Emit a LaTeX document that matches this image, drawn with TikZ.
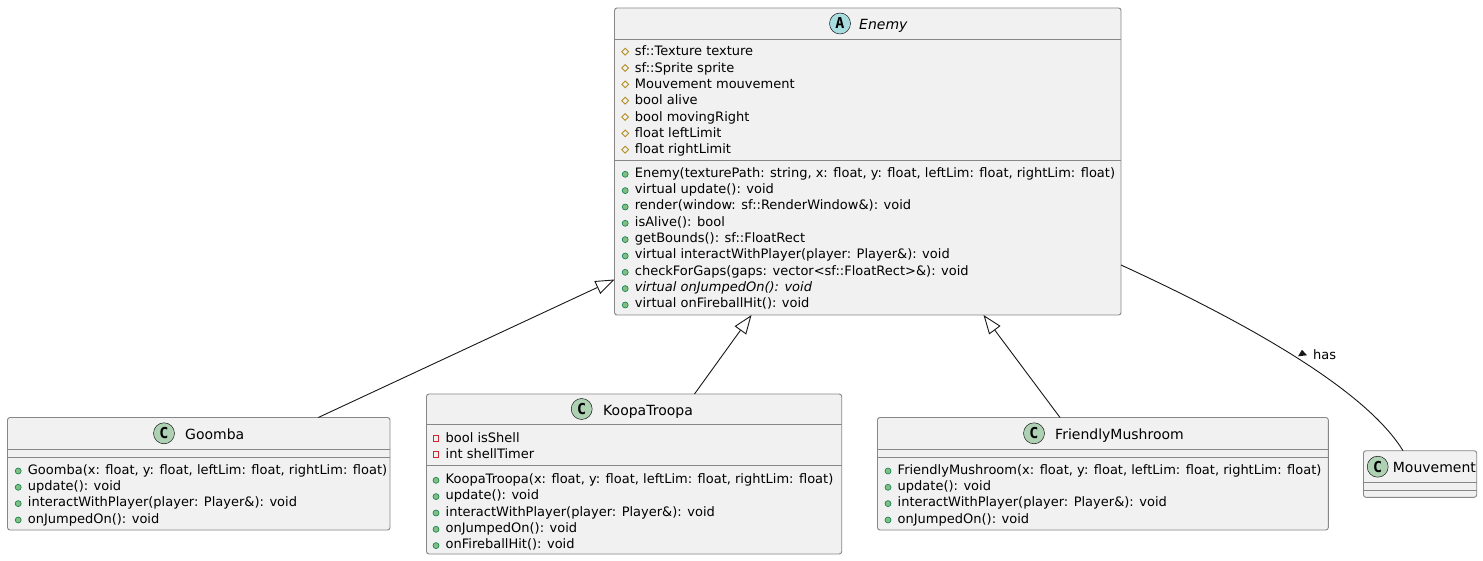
\documentclass[tikz,border=0pt]{standalone}
\usepackage{fontspec}
\setmainfont{DejaVu Sans}
\newfontfamily\iconfont{DejaVu Sans Mono}
\usetikzlibrary{arrows.meta}
\definecolor{boxfill}{HTML}{F1F1F1}
\definecolor{ink}{HTML}{181818}
\definecolor{border}{HTML}{878787}
\definecolor{cicon}{HTML}{ADD1B2}
\definecolor{aicon}{HTML}{A9DCDF}
\definecolor{pubfill}{HTML}{84BE84}
\definecolor{publine}{HTML}{038048}
\definecolor{protline}{HTML}{B38D22}
\definecolor{privline}{HTML}{C82930}
\tikzset{
  classbox/.style={draw=border, line width=0.9pt, fill=boxfill, rounded corners=2.5pt,
    anchor=north west, inner sep=0pt, outer sep=0pt},
  sep/.style={draw=border, line width=0.9pt},
  member/.style={anchor=base west, inner sep=0pt, text=black, font=\fontsize{13}{16}\selectfont},
  cname/.style={anchor=base west, inner sep=0pt, text=black, font=\fontsize{14}{16}\selectfont},
  badge/.style={circle, draw=ink, line width=0.5pt, minimum size=21pt, inner sep=0pt,
    font=\iconfont\bfseries\fontsize{15}{15}\selectfont},
  ext/.style={draw=ink, line width=0.9pt, -{Triangle[fill=white, length=19pt, width=14pt]}},
  assoc/.style={draw=ink, line width=0.9pt},
  pubicon/.style={fill=pubfill, draw=publine, line width=0.6pt},
  proticon/.style={draw=protline, line width=0.9pt},
  privicon/.style={draw=privline, line width=0.9pt},
}
\newcommand\pubm[4]{%
  \node[member] (#1) at (#2,#3) {#4};
  \path[pubicon] ([shift={(-9.5,-3)}]#1.base west) circle[radius=3pt];
}
\newcommand\protm[4]{%
  \node[member] (#1) at (#2,#3) {#4};
  \path[proticon] ([shift={(-9.5,-4.3)}]#1.base west) +(-3.4,0) -- +(0,-3.4) -- +(3.4,0) -- +(0,3.4) -- cycle;
}
\newcommand\privm[4]{%
  \node[member] (#1) at (#2,#3) {#4};
  \path[privicon] ([shift={(-9.5,-4)}]#1.base west) +(-2.7,-2.7) rectangle +(2.7,2.7);
}
\begin{document}
\begin{tikzpicture}[x=1pt,y=-1pt]
\fill[white] (0,0) rectangle (1483,561);
\useasboundingbox (0,0) rectangle (1483,561);

% ---------- Enemy ----------
\node[classbox, minimum width=506.5pt, minimum height=307pt] (enemy) at (614.5,8) {};
\draw[sep] ([shift={(0,31)}]enemy.north west) -- ([shift={(0,31)}]enemy.north east);
\draw[sep] ([shift={(0,152.5)}]enemy.north west) -- ([shift={(0,152.5)}]enemy.north east);
\node[badge, fill=aicon] (badgeE) at (840,23.5) {A};
\node[cname, font=\fontsize{14}{16}\selectfont\itshape] (nameE) at (859,29.3) {Enemy};
\protm{ea1}{634.7}{56}{sf::Texture texture}
\protm{ea2}{634.7}{72.3}{sf::Sprite sprite}
\protm{ea3}{634.7}{88.7}{Mouvement mouvement}
\protm{ea4}{634.7}{105}{bool alive}
\protm{ea5}{634.7}{121.3}{bool movingRight}
\protm{ea6}{634.7}{137.7}{float leftLimit}
\protm{ea7}{634.7}{154}{float rightLimit}
\pubm{em1}{634.7}{177.3}{Enemy(texturePath: string, x: float, y: float, leftLim: float, rightLim: float)}
\pubm{em2}{634.7}{193.6}{virtual update(): void}
\pubm{em3}{634.7}{210}{render(window: sf::RenderWindow\&): void}
\pubm{em4}{634.7}{226.3}{isAlive(): bool}
\pubm{em5}{634.7}{242.6}{getBounds(): sf::FloatRect}
\pubm{em6}{634.7}{259}{virtual interactWithPlayer(player: Player\&): void}
\pubm{em7}{634.7}{275.3}{checkForGaps(gaps: vector<sf::FloatRect>\&): void}
\pubm{em8}{634.7}{291.6}{\itshape virtual onJumpedOn(): void}
\pubm{em9}{634.7}{308}{virtual onFireballHit(): void}

% ---------- Goomba ----------
\node[classbox, minimum width=382.5pt, minimum height=112.5pt] (goomba) at (7.5,417.5) {};
\draw[sep] ([shift={(0,31.8)}]goomba.north west) -- ([shift={(0,31.8)}]goomba.north east);
\draw[sep] ([shift={(0,39.8)}]goomba.north west) -- ([shift={(0,39.8)}]goomba.north east);
\node[badge, fill=cicon] (badgeG) at (164,433.3) {C};
\node[cname] (nameG) at (185,439.3) {Goomba};
\pubm{gm1}{27.7}{474}{Goomba(x: float, y: float, leftLim: float, rightLim: float)}
\pubm{gm2}{27.7}{490.3}{update(): void}
\pubm{gm3}{27.7}{506.6}{interactWithPlayer(player: Player\&): void}
\pubm{gm4}{27.7}{523}{onJumpedOn(): void}

% ---------- KoopaTroopa ----------
\node[classbox, minimum width=415.2pt, minimum height=160pt] (koopa) at (426.5,394) {};
\draw[sep] ([shift={(0,30.7)}]koopa.north west) -- ([shift={(0,30.7)}]koopa.north east);
\draw[sep] ([shift={(0,71)}]koopa.north west) -- ([shift={(0,71)}]koopa.north east);
\node[badge, fill=cicon] (badgeK) at (581.7,409) {C};
\node[cname] (nameK) at (603,415) {KoopaTroopa};
\privm{ka1}{445.5}{442.3}{bool isShell}
\privm{ka2}{445.5}{458.6}{int shellTimer}
\pubm{km1}{445.5}{483.3}{KoopaTroopa(x: float, y: float, leftLim: float, rightLim: float)}
\pubm{km2}{445.5}{499.6}{update(): void}
\pubm{km3}{445.5}{516}{interactWithPlayer(player: Player\&): void}
\pubm{km4}{445.5}{532.3}{onJumpedOn(): void}
\pubm{km5}{445.5}{548.6}{onFireballHit(): void}

% ---------- FriendlyMushroom ----------
\node[classbox, minimum width=450.8pt, minimum height=112.5pt] (friendly) at (877.5,417.5) {};
\draw[sep] ([shift={(0,31.8)}]friendly.north west) -- ([shift={(0,31.8)}]friendly.north east);
\draw[sep] ([shift={(0,39.8)}]friendly.north west) -- ([shift={(0,39.8)}]friendly.north east);
\node[badge, fill=cicon] (badgeF) at (1034,433.3) {C};
\node[cname] (nameF) at (1055,439.3) {FriendlyMushroom};
\pubm{fm1}{897.5}{474}{FriendlyMushroom(x: float, y: float, leftLim: float, rightLim: float)}
\pubm{fm2}{897.5}{490.3}{update(): void}
\pubm{fm3}{897.5}{506.6}{interactWithPlayer(player: Player\&): void}
\pubm{fm4}{897.5}{523}{onJumpedOn(): void}

% ---------- Mouvement ----------
\node[classbox, minimum width=113.2pt, minimum height=46.6pt] (mouv) at (1363.5,450.7) {};
\draw[sep] ([shift={(0,32)}]mouv.north west) -- ([shift={(0,32)}]mouv.north east);
\draw[sep] ([shift={(0,39.3)}]mouv.north west) -- ([shift={(0,39.3)}]mouv.north east);
\node[badge, fill=cicon] (badgeM) at (1377.7,466.7) {C};
\node[cname] (nameM) at (1392.7,472.7) {Mouvement};

% ---------- connectors ----------
\coordinate (g1) at ([shift={(310.8,0)}]goomba.north west);
\coordinate (e1) at ([shift={(0,271.5)}]enemy.north west);
\coordinate (k1) at ([shift={(268,0)}]koopa.north west);
\coordinate (e2) at ([shift={(137,307)}]enemy.north west);
\coordinate (f1) at ([shift={(182.5,0)}]friendly.north west);
\coordinate (e3) at ([shift={(369,307)}]enemy.north west);
\coordinate (e4) at ([shift={(506.5,257)}]enemy.north west);
\coordinate (m1) at ([shift={(39.5,0)}]mouv.north west);
\draw[ext] (g1) -- (e1);
\draw[ext] (k1) -- (e2);
\draw[ext] (f1) -- (e3);
\draw[assoc] (e4) .. controls (1280,338) and (1372,400) .. (m1);
\node[member] (haslbl) at (1313,359) {has};
\fill[ink] (1302,349.8) -- (1298,356.3) -- (1307,355.3) -- cycle;
\end{tikzpicture}
\end{document}
